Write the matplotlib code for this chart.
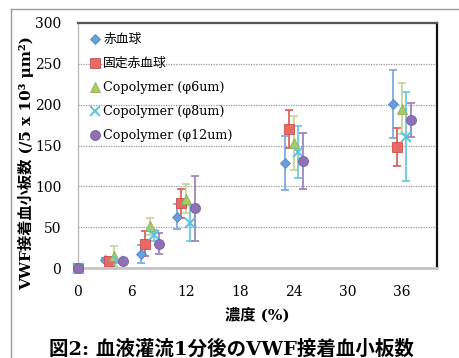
import matplotlib
matplotlib.use("Agg")
import matplotlib.pyplot as plt
from matplotlib.lines import Line2D

plt.rcParams['font.family'] = ['DejaVu Serif', 'Noto Sans CJK JP']

# Concentration (%) per series (small offsets keep the groups readable)
x_rbc = [0, 3, 7, 11, 23, 35]
x_fixed = [0, 3.5, 7.5, 11.5, 23.5, 35.5]
x_cp6 = [0, 4, 8, 12, 24, 36]
x_cp8 = [0, 4.5, 8.5, 12.5, 24.5, 36.5]
x_cp12 = [0, 5, 9, 13, 25, 37]

# Adhered platelet counts and their error bars
y_rbc = [0, 10, 17, 63, 129, 201]
e_rbc = [0, 2, 11, 15, 33, 42]
y_fixed = [0, 9, 30, 79, 170, 148]
e_fixed = [0, 2, 15, 18, 23, 23]
y_cp6 = [0, 15, 51, 85, 153, 195]
e_cp6 = [0, 12, 10, 18, 33, 31]
y_cp8 = [0, 8, 40, 55, 142, 161]
e_cp8 = [0, 2, 7, 22, 32, 54]
y_cp12 = [0, 8, 30, 73, 131, 181]
e_cp12 = [0, 2, 13, 40, 34, 21]

labels = ["赤血球", "固定赤血球", "Copolymer (φ6um)", "Copolymer (φ8um)", "Copolymer (φ12um)"]
x_ticks = [0, 6, 12, 18, 24, 30, 36]
y_ticks = [0, 50, 100, 150, 200, 250, 300]

series = [
    (x_rbc, y_rbc, e_rbc, 'D', 5.2, '#6a9fdc', '#4f86c9', '#7eaadf'),
    (x_fixed, y_fixed, e_fixed, 's', 6.8, '#e86a66', '#cc4d4a', '#d86562'),
    (x_cp6, y_cp6, e_cp6, '^', 7.0, '#a8cc6a', '#8cb050', '#c3d993'),
    (x_cp8, y_cp8, e_cp8, 'x', 7.0, '#5cc3dc', '#5cc3dc', '#6fc9df'),
    (x_cp12, y_cp12, e_cp12, 'o', 7.2, '#8e70b4', '#7a5ea2', '#9c86c2'),
]

fig = plt.figure(figsize=(4.6, 3.58), dpi=100)
ax = fig.add_axes([78 / 460, 1 - 268 / 358, (437.5 - 78) / 460, (268 - 23) / 358])

handles = []
for (xs, ys, es, mk, ms, fc, ec, errc), lab in zip(series, labels):
    ax.errorbar(xs, ys, yerr=es, fmt='none', ecolor=errc, elinewidth=1.3,
                capsize=2.6, capthick=1.3, zorder=3)
    if mk == 'x':
        h, = ax.plot(xs, ys, linestyle='none', marker=mk, markersize=ms,
                     color=fc, markeredgewidth=1.4, zorder=4, label=lab,
                     clip_on=False)
    else:
        h, = ax.plot(xs, ys, linestyle='none', marker=mk, markersize=ms,
                     markerfacecolor=fc, markeredgecolor=ec, markeredgewidth=0.6,
                     zorder=4, label=lab, clip_on=False)
    handles.append(h)

ax.set_xlim(0, 40)
ax.set_ylim(0, 300)
ax.set_xticks(x_ticks)
ax.set_yticks(y_ticks)
ax.tick_params(axis='both', length=0, labelsize=10)
ax.tick_params(axis='x', pad=12)
ax.tick_params(axis='y', pad=12)

ax.yaxis.grid(True, linestyle=(0, (1, 1)), color='#9a9a9a', linewidth=0.9)
ax.set_axisbelow(True)

ax.spines['left'].set_color('#bdbdbd')
ax.spines['left'].set_linewidth(1.0)
ax.spines['bottom'].set_color('#c4c4c4')
ax.spines['bottom'].set_linewidth(2.0)
ax.spines['top'].set_color('#555555')
ax.spines['top'].set_linewidth(1.6)
ax.spines['right'].set_color('#111111')
ax.spines['right'].set_linewidth(1.6)

ax.legend(handles=handles, loc='upper left', frameon=False, fontsize=9.2,
          handlelength=0.8, handletextpad=0.25, labelspacing=0.86,
          borderaxespad=0.3, bbox_to_anchor=(0.008, 0.995))

ax.set_xlabel("濃度 (%)", fontsize=11, fontweight='bold', labelpad=6)

fig.text(26 / 460, 1 - 163 / 358, "VWF接着血小板数 (/5 x 10³ μm²)",
         rotation=90, ha='center', va='center', fontsize=11, fontweight='bold')

fig.text(0.503, 1 - 349 / 358, "図2: 血液灌流1分後のVWF接着血小板数",
         ha='center', va='center', fontsize=14, fontweight='bold')

# Outer frame around the figure block
fig.add_artist(Line2D([11 / 460, 11 / 460], [0, 1 - 9 / 358],
                      transform=fig.transFigure, color='#9a9a9a', linewidth=1.0))
fig.add_artist(Line2D([11 / 460, 1], [1 - 9 / 358, 1 - 9 / 358],
                      transform=fig.transFigure, color='#9a9a9a', linewidth=1.0))

fig.savefig("out.png", dpi=100)
